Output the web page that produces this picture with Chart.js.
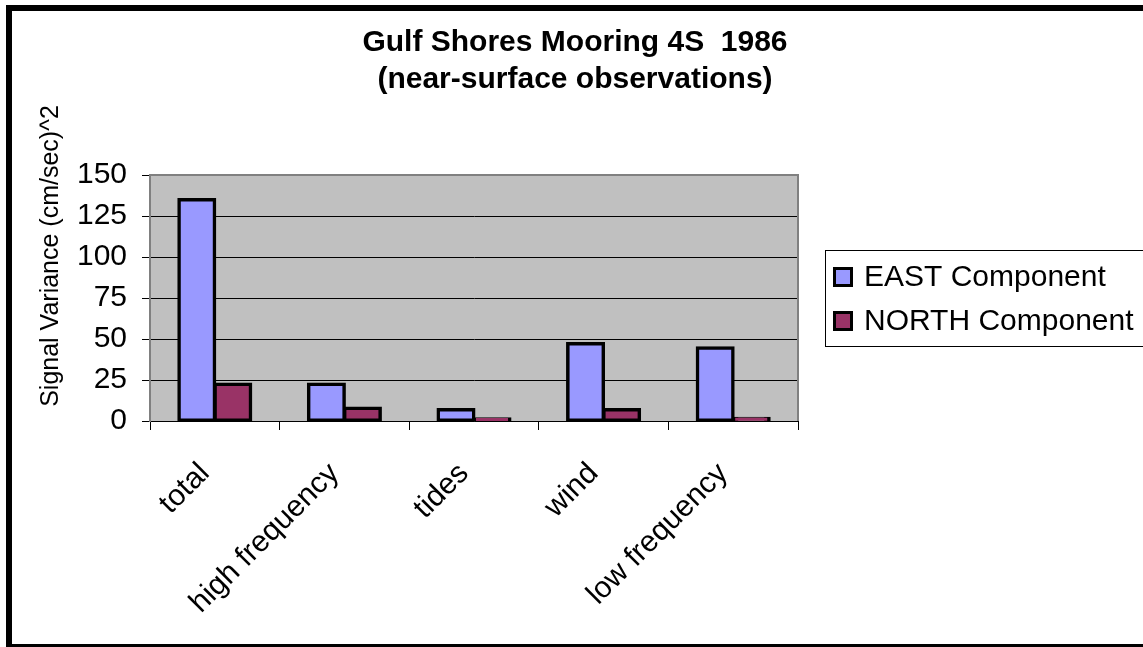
<!DOCTYPE html>
<html>
<head>
<meta charset="utf-8">
<title>Gulf Shores Mooring 4S 1986</title>
<script src="https://cdn.jsdelivr.net/npm/chart.js@4"></script>
<style>
  html, body { margin: 0; padding: 0; background: #fff; }
  canvas { display: block; }
</style>
</head>
<body>
<canvas id="varianceChart" width="1143" height="647"></canvas>
<script>
// Signal variance per frequency band, (cm/sec)^2
const bands = ['total', 'high frequency', 'tides', 'wind', 'low frequency'];
const eastVariance = [135, 22.5, 7, 47.3, 44.6];
const northVariance = [22.5, 8, 1.4, 7, 1.7];
const seriesNames = ['EAST Component', 'NORTH Component'];
const yTicks = [0, 25, 50, 75, 100, 125, 150];
const titleLines = ['Gulf Shores Mooring 4S  1986', '(near-surface observations)'];
const yTitle = 'Signal Variance (cm/sec)^2';

const FONT = '"Liberation Sans", Arial, sans-serif';

// frame, grey plot area and its top/right edge
const backdrop = {
    id: 'backdrop',
    beforeDraw(chart) {
        const ctx = chart.ctx;
        const a = chart.chartArea;
        ctx.save();
        ctx.fillStyle = '#fff';
        ctx.fillRect(0, 0, chart.width, chart.height);
        ctx.fillStyle = '#000';
        ctx.fillRect(6, 5, chart.width - 6, 6);
        ctx.fillRect(6, 5, 6, chart.height - 5);
        ctx.fillRect(6, chart.height - 3, chart.width - 6, 3);
        ctx.fillStyle = '#c0c0c0';
        ctx.fillRect(a.left, a.top, a.right - a.left, a.bottom - a.top);
        ctx.restore();
    },
    afterDraw(chart) {
        const ctx = chart.ctx;
        const a = chart.chartArea;
        ctx.save();
        ctx.strokeStyle = '#808080';
        ctx.lineWidth = 2;
        ctx.beginPath();
        ctx.moveTo(a.left, a.top);
        ctx.lineTo(a.right, a.top);
        ctx.lineTo(a.right, a.bottom);
        ctx.stroke();
        ctx.restore();
    }
};

// two-line heading and the rotated value-axis title
const headings = {
    id: 'headings',
    afterDraw(chart) {
        const ctx = chart.ctx;
        ctx.save();
        ctx.fillStyle = '#000';
        ctx.textAlign = 'center';
        ctx.textBaseline = 'alphabetic';
        ctx.font = 'bold 30px ' + FONT;
        titleLines.forEach((line, i) => ctx.fillText(line, 575, 51 + i * 37));
        ctx.translate(51, 256);
        ctx.rotate(-Math.PI / 2);
        ctx.font = '25px ' + FONT;
        ctx.textBaseline = 'middle';
        ctx.fillText(yTitle, 0, 0);
        ctx.restore();
    }
};

// boxed legend on the right
const boxLegend = {
    id: 'boxLegend',
    afterDraw(chart) {
        const ctx = chart.ctx;
        ctx.save();
        ctx.strokeStyle = '#000';
        ctx.lineWidth = 1;
        ctx.strokeRect(825.5, 250.5, 340, 96);
        ctx.font = '30px ' + FONT;
        ctx.textBaseline = 'middle';
        ctx.textAlign = 'left';
        chart.data.datasets.forEach((ds, i) => {
            const cy = 277 + i * 44;
            ctx.fillStyle = '#000';
            ctx.fillRect(833, cy - 10, 20, 20);
            ctx.fillStyle = ds.backgroundColor;
            ctx.fillRect(836, cy - 7, 14, 14);
            ctx.fillStyle = '#000';
            ctx.fillText(ds.label, 864, cy + 1);
        });
        ctx.restore();
    }
};

const chart = new Chart(document.getElementById('varianceChart'), {
    type: 'bar',
    data: {
        labels: bands,
        datasets: [
            { label: seriesNames[0], data: eastVariance, backgroundColor: '#9999ff' },
            { label: seriesNames[1], data: northVariance, backgroundColor: '#993366' }
        ]
    },
    options: {
        responsive: false,
        animation: false,
        devicePixelRatio: 1,
        layout: { padding: { left: 12, top: 175, right: 345, bottom: 10 } },
        datasets: {
            bar: {
                borderColor: '#000',
                borderWidth: 3.5,
                borderSkipped: false,
                inflateAmount: 1.5,
                barPercentage: 1,
                categoryPercentage: 0.556
            }
        },
        plugins: {
            legend: { display: false },
            title: { display: false },
            tooltip: { enabled: false }
        },
        scales: {
            x: {
                afterFit(scale) { scale.height = 647 - 421 - 10; },
                grid: {
                    offset: true,
                    drawOnChartArea: false,
                    drawTicks: true,
                    tickLength: 9,
                    color: '#000',
                    lineWidth: 1
                },
                border: { color: '#000', width: 1 },
                ticks: {
                    minRotation: 45,
                    maxRotation: 45,
                    autoSkip: false,
                    padding: 26,
                    labelOffset: -10,
                    color: '#000',
                    font: { family: FONT, size: 30 }
                }
            },
            y: {
                min: yTicks[0],
                max: yTicks[yTicks.length - 1],
                afterFit(scale) { scale.width = 150 - 12; },
                afterBuildTicks(scale) { scale.ticks = yTicks.map(v => ({ value: v })); },
                grid: {
                    color: '#000',
                    lineWidth: 1,
                    tickLength: 8,
                    drawTicks: true
                },
                border: { color: '#808080', width: 2 },
                ticks: {
                    padding: 15,
                    color: '#000',
                    font: { family: FONT, size: 30 }
                }
            }
        }
    },
    plugins: [backdrop, headings, boxLegend]
});
</script>
</body>
</html>
